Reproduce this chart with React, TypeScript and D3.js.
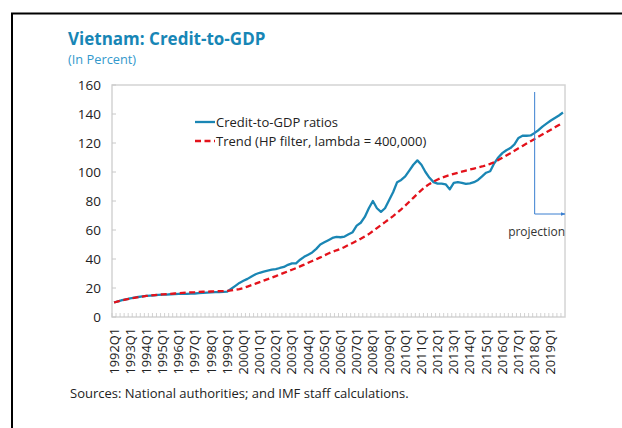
import React from 'react';
import * as d3 from 'd3';

const years = d3.range(1992, 2020);
const quarters = years.flatMap(y => [1, 2, 3, 4].map(q => `${y}Q${q}`));

// Credit-to-GDP ratios, quarterly 1992Q1..2019Q4
const credit = [
  10, 10.8, 11.6, 12.2,
  12.8, 13.3, 13.8, 14.2,
  14.5, 14.8, 15, 15.2,
  15.4, 15.5, 15.7, 15.8,
  15.9, 16, 16, 16.1,
  16.2, 16.4, 16.6, 16.8,
  17, 17.1, 17.2, 17.3,
  17.5, 19.5, 21.5, 23.5,
  25, 26.3, 28, 29.5,
  30.5, 31.3, 32, 32.6,
  33, 33.8, 34.5, 36,
  37, 37, 39.5, 41.5,
  43, 44.5, 47, 50,
  51.5, 53, 54.5, 55.3,
  55, 55.5, 57, 58.5,
  63, 65, 69, 75,
  80, 75, 72.5, 75,
  80.5, 86, 93, 94.5,
  97, 101, 105, 108,
  105, 100, 96, 93,
  92, 92, 91.5, 88,
  92.5, 93, 92.5, 91.8,
  92.2, 93, 94.5, 97,
  99.5, 100.5, 106, 110,
  113, 115, 116.5, 119,
  123.5, 125, 125, 125.2,
  127, 129, 131.5, 133.5,
  135.5, 137.3, 139, 141,
];

// Trend (HP filter, lambda = 400,000)
const trend = [
  10, 10.8, 11.5, 12.1,
  12.7, 13.2, 13.7, 14.1,
  14.5, 14.8, 15.1, 15.4,
  15.6, 15.8, 16, 16.2,
  16.4, 16.6, 16.8, 17,
  17.1, 17.3, 17.4, 17.5,
  17.6, 17.7, 17.8, 17.9,
  18, 18.3, 18.7, 19.3,
  20, 21, 22, 23,
  24, 25.1, 26.1, 27.2,
  28.2, 29.3, 30.4, 31.5,
  32.6, 33.7, 34.9, 36.1,
  37.4, 38.6, 39.8, 41.1,
  42.5, 43.8, 44.9, 46,
  47, 48.3, 49.7, 51.1,
  52.5, 54, 55.6, 57.2,
  59.2, 61.3, 63.4, 65.4,
  67.5, 69.6, 71.8, 74.2,
  76.8, 79.5, 82.2, 84.9,
  87.5, 89.8, 91.8, 93.4,
  94.8, 96, 97, 97.9,
  98.7, 99.5, 100.3, 101,
  101.7, 102.4, 103.1, 103.8,
  104.6, 105.6, 106.8, 108.2,
  109.8, 111.4, 113, 114.7,
  116.4, 118, 119.6, 121.2,
  122.8, 124.4, 126, 127.6,
  129.2, 130.8, 132.4, 134,
];

const yTicks = [0, 20, 40, 60, 80, 100, 120, 140, 160];
const projectionStart = '2018Q1';

const FONT = "'Open Sans', 'Noto Sans', sans-serif";
const BLUE = '#1a86b4';
const RED = '#e3121b';

const App = () => {
  const left = 112, right = 565, top = 85, bottom = 317;

  const x = d3.scaleBand().domain(quarters).range([left, right]).padding(0);
  const cx = (q: string) => (x(q) as number) + x.bandwidth() / 2;
  const y = d3.scaleLinear().domain([0, 160]).range([bottom, top]);

  const line = d3.line<number>()
    .x((_, i) => cx(quarters[i]))
    .y(d => y(d))
    .curve(d3.curveLinear);

  const px = cx(projectionStart);

  return (
    <svg width={622} height={428} style={{ position: 'absolute', left: 0, top: 0, background: '#fff' }}
      fontFamily={FONT}>
      <defs>
        <marker id="arr" viewBox="0 0 10 10" refX="9" refY="5" markerWidth="5" markerHeight="5" orient="auto">
          <path d="M0,1 L10,5 L0,9 z" fill="#3a7fd0" />
        </marker>
      </defs>
      <rect x={12} y={13.5} width={700} height={500} fill="none" stroke="#000" strokeWidth={2} />

      <text x={68} y={45} fontSize={17} fontWeight="bold" fill="#1786b6">Vietnam: Credit-to-GDP</text>
      <text x={68} y={64} fontSize={12.8} fill="#3399cc">(In Percent)</text>

      {/* plot frame */}
      <rect x={left} y={top} width={right - left} height={bottom - top} fill="none" stroke="#d4d4d4" strokeWidth={1.5} />

      {/* y ticks */}
      {yTicks.map(t => (
        <g key={t}>
          <line x1={left} x2={left + 4} y1={y(t)} y2={y(t)} stroke="#c8c8c8" />
          <text x={101} y={y(t)} dy="0.35em" textAnchor="end" fontSize={13.5} fill="#222">{t}</text>
        </g>
      ))}

      {/* x ticks: every quarter */}
      {quarters.map(q => (
        <line key={q} x1={x(q) as number} x2={x(q) as number} y1={bottom} y2={bottom - 4} stroke="#c8c8c8" strokeWidth={0.8} />
      ))}
      {quarters.filter(q => q.endsWith('Q1')).map(q => (
        <text key={q} transform={`translate(${cx(q)},${bottom + 11}) rotate(-90)`} dy="0.35em"
          textAnchor="end" fontSize={12.8} fill="#222">{q}</text>
      ))}

      {/* series */}
      <path d={line(credit) as string} fill="none" stroke={BLUE} strokeWidth={2.3} strokeLinejoin="round" />
      <path d={line(trend) as string} fill="none" stroke={RED} strokeWidth={2.3} strokeDasharray="6,3.5" />

      {/* projection marker */}
      <line x1={px} x2={px} y1={92} y2={214} stroke="#3a7fd0" strokeWidth={1} />
      <line x1={px} x2={right} y1={214} y2={214} stroke="#3a7fd0" strokeWidth={1} markerEnd="url(#arr)" />
      <text x={right} y={236} textAnchor="end" fontSize={12} fill="#333">projection</text>

      {/* legend */}
      <line x1={195} x2={215} y1={122} y2={122} stroke={BLUE} strokeWidth={2.3} />
      <text x={216} y={122} dy="0.35em" fontSize={13} fill="#222">Credit-to-GDP ratios</text>
      <line x1={195} x2={215} y1={141} y2={141} stroke={RED} strokeWidth={2.3} strokeDasharray="6,3.5" />
      <text x={216} y={141} dy="0.35em" fontSize={13} fill="#222">Trend (HP filter, lambda = 400,000)</text>

      <text x={70} y={398} fontSize={13} fill="#222">Sources: National authorities; and IMF staff calculations.</text>
    </svg>
  );
};

export default App;
